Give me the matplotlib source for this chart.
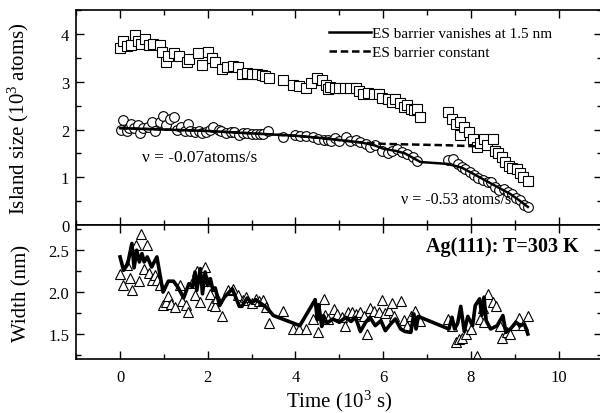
import matplotlib
matplotlib.use('Agg')
import matplotlib.pyplot as plt
from matplotlib.ticker import MultipleLocator

plt.rcParams['font.family'] = ['Liberation Serif', 'DejaVu Serif']
plt.rcParams['mathtext.fontset'] = 'custom'
plt.rcParams['mathtext.rm'] = 'Liberation Serif'
plt.rcParams['mathtext.it'] = 'Liberation Serif:italic'

# island size, squares (10^3 s, 10^3 atoms)
sq_t = [0.0, 0.07, 0.15, 0.25, 0.34, 0.41, 0.48, 0.57, 0.66, 0.75, 0.9, 0.95, 1.05, 1.1,
        1.22, 1.35, 1.52, 1.58, 1.78, 1.86, 2.0, 2.1, 2.17, 2.33, 2.45, 2.58, 2.7, 2.78,
        2.9, 3.0, 3.12, 3.23, 3.3, 3.4, 3.72, 3.95, 4.08, 4.25, 4.35, 4.5, 4.6, 4.7, 4.75,
        4.79, 4.9, 5.0, 5.14, 5.25, 5.37, 5.46, 5.55, 5.66, 5.78, 5.9, 5.98, 6.1, 6.2,
        6.28, 6.38, 6.47, 6.55, 6.63, 6.7, 6.77, 6.85,
        7.49, 7.57, 7.67, 7.75, 7.76, 7.85, 7.95, 8.05, 8.13, 8.2, 8.3, 8.37, 8.5, 8.54,
        8.62, 8.7, 8.78, 8.86, 8.94, 9.05, 9.13, 9.2, 9.3]
sq_v = [3.70, 3.85, 3.75, 3.77, 3.97, 3.86, 3.80, 3.90, 3.78, 3.80, 3.77, 3.62, 3.42, 3.53,
        3.60, 3.53, 3.42, 3.48, 3.60, 3.35, 3.62, 3.50, 3.42, 3.26, 3.32, 3.33, 3.30, 3.16,
        3.18, 3.16, 3.16, 3.14, 3.13, 3.09, 3.04, 2.93, 2.91, 2.88, 2.97, 3.07, 3.03, 2.93, 2.85,
        2.90, 2.88, 2.88, 2.88, 2.86, 2.88, 2.80, 2.74, 2.76, 2.74, 2.75, 2.67, 2.63, 2.57,
        2.63, 2.55, 2.47, 2.52, 2.44, 2.41, 2.44, 2.26,
        2.36, 2.22, 2.11, 2.16, 1.88, 2.05, 1.95, 1.81, 1.63, 1.72, 1.80, 1.68, 1.80, 1.55,
        1.51, 1.42, 1.33, 1.24, 1.20, 1.18, 1.08, 1.00, 0.93]

# island size, circles
ci_t = [0.02, 0.07, 0.15, 0.2, 0.25, 0.32, 0.4, 0.46, 0.53, 0.64, 0.73, 0.8, 0.9, 0.98,
        1.05, 1.13, 1.22, 1.3, 1.38, 1.47, 1.55, 1.6, 1.7, 1.8, 1.88, 1.95, 2.05, 2.13,
        2.25, 2.3, 2.42, 2.52, 2.6, 2.72, 2.8, 2.9, 3.0, 3.1, 3.2, 3.27, 3.37, 3.72, 3.99,
        4.1, 4.25, 4.4, 4.52, 4.65, 4.75, 4.8, 4.9, 5.0, 5.15, 5.25, 5.37, 5.48, 5.6, 5.7,
        5.82, 5.98, 6.1, 6.2, 6.32, 6.43, 6.55, 6.67, 6.78,
        7.49, 7.6, 7.7, 7.8, 7.87, 7.98, 8.07, 8.17, 8.27, 8.38, 8.46, 8.54, 8.65, 8.75,
        8.84, 8.93, 9.03, 9.13, 9.22, 9.3]
ci_v = [1.99, 2.20, 1.97, 2.03, 2.12, 2.03, 2.10, 1.92, 2.03, 2.06, 2.15, 1.98, 2.15, 2.28,
        2.10, 2.22, 2.26, 1.99, 2.06, 1.97, 2.12, 1.97, 1.95, 1.96, 1.92, 1.95, 1.99, 2.06,
        1.99, 1.96, 1.92, 1.94, 1.95, 1.88, 1.93, 1.93, 1.90, 1.91, 1.90, 1.90, 1.97, 1.84, 1.88,
        1.86, 1.86, 1.85, 1.80, 1.79, 1.78, 1.77, 1.82, 1.75, 1.84, 1.75, 1.79, 1.73, 1.70, 1.63,
        1.68, 1.56, 1.51, 1.56, 1.60, 1.54, 1.49, 1.42, 1.34,
        1.36, 1.38, 1.28, 1.22, 1.17, 1.12, 1.05, 0.98, 0.95, 0.91, 0.90, 0.80, 0.73, 0.76,
        0.69, 0.65, 0.56, 0.52, 0.43, 0.37]

# model curves for the circles
const_t = [0.0, 1.0, 2.0, 3.0, 4.0, 4.5, 5.0, 5.5, 6.0, 6.5, 7.0, 7.5, 8.1]
const_v = [2.03, 2.0, 1.97, 1.92, 1.87, 1.83, 1.78, 1.73, 1.70, 1.69, 1.68, 1.67, 1.65]
vanish_t = [0.0, 1.0, 2.0, 3.0, 4.0, 4.5, 5.0, 5.5, 5.8, 6.0, 6.3, 6.5, 6.85, 7.47,
            7.8, 8.0, 8.3, 8.6, 8.9, 9.1, 9.3]
vanish_v = [2.03, 2.0, 1.97, 1.92, 1.87, 1.83, 1.78, 1.73, 1.67, 1.60, 1.55, 1.50, 1.32, 1.28,
            1.20, 1.10, 0.95, 0.80, 0.65, 0.52, 0.38]

# width, triangles (nm)
tr_t = [0.0, 0.07, 0.15, 0.23, 0.27, 0.36, 0.43, 0.48, 0.55, 0.62, 0.65, 0.73, 0.8, 0.84,
        0.9, 0.98, 1.05, 1.1, 1.17, 1.25, 1.37, 1.42, 1.5, 1.55, 1.63, 1.7, 1.76, 1.83,
        1.94, 1.98, 2.04, 2.1, 2.17, 2.2, 2.33, 2.47, 2.58, 2.7, 2.8, 2.88, 3.0, 3.1, 3.17,
        3.25, 3.33, 3.4, 3.72, 3.95, 4.08, 4.25, 4.4, 4.52, 4.64, 4.68, 4.75, 4.87, 4.94,
        5.06, 5.13, 5.2, 5.3, 5.37, 5.48, 5.57, 5.63, 5.7, 5.78, 5.9, 5.98, 6.05, 6.13, 6.2,
        6.25, 6.4, 6.47, 6.55, 6.63, 6.73, 6.83,
        7.49, 7.57, 7.65, 7.73, 7.8, 7.9, 8.0, 8.14, 8.2, 8.27, 8.3, 8.4, 8.5, 8.57, 8.67,
        8.7, 8.83, 8.9, 9.0, 9.1, 9.2, 9.3]
tr_v = [2.22, 2.09, 2.32, 2.17, 2.03, 2.56, 2.13, 2.69, 2.27, 2.56, 2.23, 2.15, 2.21, 2.15,
        2.09, 1.85, 1.88, 1.95, 1.86, 1.82, 2.08, 1.89, 1.85, 1.76, 2.11, 1.96, 2.25, 1.88,
        2.30, 2.13, 1.98, 1.85, 1.84, 1.93, 1.72, 2.02, 2.04, 1.96, 1.90, 1.94, 1.87, 1.92, 1.89,
        1.91, 1.82, 1.63, 1.78, 1.56, 1.56, 1.56, 1.68, 1.53, 1.92, 1.73, 1.68, 1.80, 1.74,
        1.70, 1.60, 1.76, 1.76, 1.74, 1.76, 1.72, 1.50, 1.81, 1.78, 1.76, 1.90, 1.75, 1.79, 1.87,
        1.72, 1.89, 1.67, 1.60, 1.72, 1.78, 1.65,
        1.68, 1.60, 1.40, 1.44, 1.45, 1.50, 1.56, 1.24, 1.68, 1.81, 1.64, 1.98, 1.88, 1.84, 1.60,
        1.45, 1.52, 1.50, 1.61, 1.69, 1.61, 1.72]

# width, model curve
wl_t = [0.0, 0.08, 0.17, 0.27, 0.32, 0.38, 0.44, 0.5, 0.55, 0.62, 0.72, 0.84, 0.9, 0.98,
        1.1, 1.22, 1.33, 1.45, 1.57, 1.65, 1.71, 1.75, 1.83, 1.88, 1.94, 2.0, 2.06, 2.12,
        2.17, 2.27, 2.38, 2.56, 2.72, 2.78, 2.9, 3.0, 3.1, 3.2, 3.33, 3.5, 3.8, 4.1, 4.45,
        4.5, 4.53, 4.6, 4.64, 4.72, 4.85, 5.0, 5.15, 5.27, 5.37, 5.48, 5.6, 5.7, 5.82, 5.95,
        6.05, 6.17, 6.28, 6.4, 6.5, 6.63, 6.7, 6.75, 6.8, 7.5, 7.57, 7.63, 7.7, 7.77, 7.85,
        7.93, 8.04, 8.1, 8.2, 8.25, 8.3, 8.35, 8.45, 8.6, 8.73, 8.8, 8.9, 9.03, 9.13, 9.22, 9.3]
wl_v = [2.42, 2.26, 2.33, 2.58, 2.29, 2.50, 2.36, 2.46, 2.36, 2.42, 2.30, 2.42, 2.24, 2.00,
        2.13, 2.13, 2.05, 1.93, 2.10, 2.06, 2.24, 2.02, 2.28, 1.98, 2.24, 2.08, 2.16, 2.02,
        2.05, 1.84, 1.94, 2.04, 1.83, 1.83, 1.93, 1.87, 1.91, 1.87, 1.82, 1.72, 1.66, 1.60, 1.91,
        1.67, 1.85, 1.59, 1.72, 1.63, 1.68, 1.64, 1.70, 1.65, 1.70, 1.53, 1.64, 1.70, 1.60, 1.66,
        1.54, 1.62, 1.68, 1.56, 1.53, 1.52, 1.74, 1.56, 1.71, 1.56, 1.70, 1.56, 1.63, 1.83, 1.53,
        1.71, 1.60, 1.84, 1.92, 1.72, 1.94, 1.66, 1.56, 1.60, 1.72, 1.52, 1.56, 1.64, 1.60, 1.62, 1.50]

fig = plt.figure(figsize=(6.0, 4.14), dpi=100)
ax1 = fig.add_axes([0.127, 0.454, 0.877, 0.519])
ax2 = fig.add_axes([0.127, 0.130, 0.877, 0.324], sharex=ax1)

mk = dict(linestyle='none', markerfacecolor='white', markeredgecolor='black',
          markeredgewidth=0.8)
ax1.plot(sq_t, sq_v, marker='s', markersize=6.8, **mk)
ax1.plot(ci_t, ci_v, marker='o', markersize=7, **mk)
ax1.plot(vanish_t, vanish_v, color='black', lw=1.8, label='ES barrier vanishes at 1.5 nm')
ax1.plot(const_t, const_v, color='black', lw=1.8, ls=(0, (3, 1.5)), label='ES barrier constant')

ax1.legend(loc='upper left', bbox_to_anchor=(0.48, 0.925), frameon=False, fontsize=11,
           handlelength=2.75, handletextpad=0.1, labelspacing=0.35, borderaxespad=0,
           borderpad=0)
ax1.text(0.5, 1.42, 'ν = -0.07atoms/s', fontsize=12.5, va='center')
ax1.text(6.4, 0.54, 'ν = -0.53 atoms/s', fontsize=11.5, va='center')

ax2.plot(tr_t, tr_v, marker='^', markersize=7.5, **mk)
ax2.plot(wl_t, wl_v, color='black', lw=2.6)
ax2.text(10.46, 2.55, 'Ag(111): T=303 K', fontsize=14.5, fontweight='bold',
         ha='right', va='center')

ax1.set_xlim(-1, 11)
ax1.set_ylim(0, 4.5)
ax2.set_ylim(1.2, 2.8)

ax1.xaxis.set_major_locator(MultipleLocator(2))
ax1.xaxis.set_minor_locator(MultipleLocator(1))
ax1.yaxis.set_major_locator(MultipleLocator(1))
ax1.yaxis.set_minor_locator(MultipleLocator(0.5))
ax2.yaxis.set_major_locator(MultipleLocator(0.5))
ax2.yaxis.set_minor_locator(MultipleLocator(0.25))
ax2.set_yticks([1.5, 2.0, 2.5])
ax2.set_yticklabels(['1.5', '2.0', '2.5'])

for ax in (ax1, ax2):
    ax.tick_params(which='both', direction='in', top=True, right=True, labelsize=12,
                   width=1.0, pad=5)
    ax.tick_params(which='major', length=6)
    ax.tick_params(which='minor', length=3.5)
    for s in ax.spines.values():
        s.set_linewidth(1.2)
ax1.tick_params(labelbottom=False)
ax2.tick_params(axis='x', pad=7)

ax1.set_ylabel('Island size (10$^3$ atoms)', fontsize=15)
ax2.set_ylabel('Width (nm)', fontsize=15)
ax1.yaxis.set_label_coords(-0.085, 0.5)
ax2.yaxis.set_label_coords(-0.085, 0.5)
ax2.set_xlabel('Time (10$^3$ s)', fontsize=15, labelpad=2)

fig.savefig('out.png', dpi=100)
